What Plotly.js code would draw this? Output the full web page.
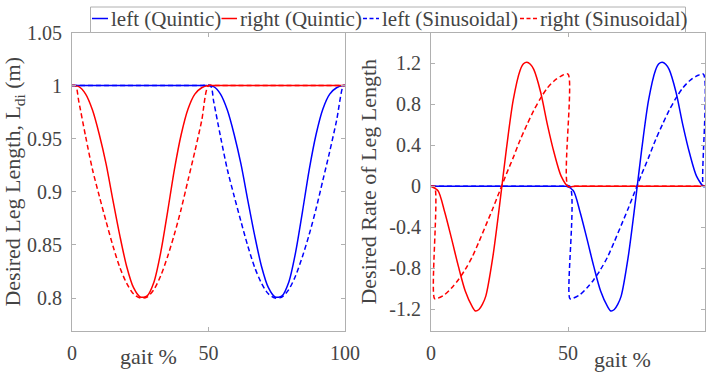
<!DOCTYPE html>
<html>
<head>
<meta charset="utf-8">
<script src="https://cdn.plot.ly/plotly-3.0.1.min.js"></script>
<style>html,body{margin:0;padding:0;background:#fff;}</style>
</head>
<body>
<div id="chart" style="width:718px;height:377px"></div>
<script>
// ---- data (gait % vs. desired leg length / rate) ----
// one swing phase (right leg swings first)
const phaseT = [0, 2.5, 5, 7.5, 10, 12.5, 15, 17.5, 20, 22.5, 25, 27.5, 30, 32.5, 35, 37.5, 40, 42.5, 45, 47.5, 50];
const quinticLength = [1, 0.999, 0.992, 0.977, 0.954, 0.926, 0.892, 0.859, 0.830, 0.810, 0.801, 0.802, 0.815, 0.843, 0.881, 0.921, 0.954, 0.978, 0.992, 0.998, 1];
const quinticRateT = [0, 2.5, 5, 7.5, 10, 12.5, 15, 16.25, 17.5, 18.75, 20, 22.5, 25, 27.5, 30, 32.5, 33.75, 35, 36.25, 37.5, 40, 42.5, 45, 47.5, 50];
const quinticRate = [0, -0.04, -0.25, -0.51, -0.78, -1.02, -1.17, -1.215, -1.2, -1.15, -1.07, -0.7, -0.19, 0.36, 0.84, 1.13, 1.195, 1.21, 1.19, 1.14, 0.92, 0.60, 0.32, 0.10, 0];

const sinLengthT = [1.3, 2.5, 5, 7.5, 10, 12.5, 15, 17.5, 20, 22.5, 25, 27.5, 30, 32.5, 35, 37.5, 40, 42.5, 45, 47.5, 50];
const sinLength = [1, 0.985, 0.952, 0.921, 0.896, 0.872, 0.849, 0.829, 0.814, 0.804, 0.800, 0.801, 0.808, 0.821, 0.839, 0.860, 0.884, 0.911, 0.938, 0.967, 1.0];
const sinRateT = [1.3, 1.3, 2.5, 5, 7.5, 10, 12.5, 15, 17.5, 20, 22.5, 25, 27.5, 30, 32.5, 35, 37.5, 40, 42.5, 45, 47.5, 50, 50];
const sinRate = [0, -1.095, -1.09, -1.055, -0.99, -0.91, -0.81, -0.69, -0.54, -0.38, -0.22, -0.05, 0.12, 0.28, 0.45, 0.60, 0.74, 0.86, 0.96, 1.03, 1.075, 1.095, 0];

// stance phase (flat) sampled on a 2.5 % grid
const stanceT = [0, 2.5, 5, 7.5, 10, 12.5, 15, 17.5, 20, 22.5, 25, 27.5, 30, 32.5, 35, 37.5, 40, 42.5, 45, 47.5];
const stanceLength = 1;     // leg length while in stance
const stanceRate = 0;       // rate while in stance
const leftShift = 49.4;     // left leg swing starts this many % later
const gaitEnd = 100;

const xTicks = [0, 50, 100];
const yTicksLength = [0.8, 0.85, 0.9, 0.95, 1, 1.05];
const yTicksRate = [1.2, 0.8, 0.4, 0, -0.4, -0.8, -1.2];
const yTickTextRate = ['1.2', '0.8', '0.4', '0', '-0.4', '-0.8', '-1.2'];

const legendNames = ['left (Quintic)', 'right (Quintic)', 'left (Sinusoidal)', 'right (Sinusoidal)'];

// ---- build series ----
function rightLeg(t, v, stance) {
  const st = stanceT.map(a => a + 52.5).filter(a => a <= gaitEnd);
  if (st[st.length - 1] !== gaitEnd) st.push(gaitEnd);
  const x = [...t, ...st];
  const y = [...v, ...st.map(() => stance)];
  if (t[0] > 0) { x.unshift(0); y.unshift(stance); }
  return {x, y};
}
function leftLeg(t, v, stance) {
  const st = stanceT.filter(a => a < leftShift + t[0] - 0.5);
  const x = [...st, ...t.map(a => a + leftShift)];
  const y = [...st.map(() => stance), ...v];
  if (x[x.length - 1] < gaitEnd) { x.push(gaitEnd); y.push(stance); }
  return {x, y};
}

const BLUE = '#0000ff', RED = '#ff0000';
const solid = c => ({color: c, width: 1.5, shape: 'spline', smoothing: 0.8});
const dashed = c => ({color: c, width: 1.5, dash: '5px,3px', shape: 'spline', smoothing: 0.8});

function mk(series, line, xa, ya, name) {
  return {type: 'scatter', mode: 'lines', x: series.x, y: series.y, line: line,
          xaxis: xa, yaxis: ya, name: name, showlegend: false, hoverinfo: 'skip'};
}

const traces = [
  mk(leftLeg(phaseT, quinticLength, stanceLength), solid(BLUE), 'x', 'y', legendNames[0]),
  mk(rightLeg(phaseT, quinticLength, stanceLength), solid(RED), 'x', 'y', legendNames[1]),
  mk(leftLeg(sinLengthT, sinLength, stanceLength), dashed(BLUE), 'x', 'y', legendNames[2]),
  mk(rightLeg(sinLengthT, sinLength, stanceLength), dashed(RED), 'x', 'y', legendNames[3]),
  mk(leftLeg(quinticRateT, quinticRate, stanceRate), solid(BLUE), 'x2', 'y2', legendNames[0]),
  mk(rightLeg(quinticRateT, quinticRate, stanceRate), solid(RED), 'x2', 'y2', legendNames[1]),
  mk(leftLeg(sinRateT, sinRate, stanceRate), dashed(BLUE), 'x2', 'y2', legendNames[2]),
  mk(rightLeg(sinRateT, sinRate, stanceRate), dashed(RED), 'x2', 'y2', legendNames[3])
];

// ---- layout ----
const W = 718, H = 377;
const px = v => v / W, py = v => 1 - v / H;
const AX = '#b0b0b0';
const f = s => ({family: 'Liberation Serif', size: s});

const axisCommon = {
  showline: true, linecolor: AX, linewidth: 1, mirror: 'allticks',
  ticks: 'inside', ticklen: 4, tickcolor: AX, tickwidth: 1,
  showgrid: false, zeroline: false, fixedrange: true,
  tickfont: f(20)
};

const layout = {
  width: W, height: H,
  margin: {l: 0, r: 0, t: 0, b: 0},
  paper_bgcolor: '#fff', plot_bgcolor: '#fff',
  showlegend: false,
  xaxis: Object.assign({}, axisCommon, {domain: [px(72), px(345)], range: [0, 100], tickvals: xTicks, anchor: 'y', ticklabelstandoff: 4}),
  yaxis: Object.assign({}, axisCommon, {domain: [py(331), py(32.5)], range: [0.769, 1.05], tickvals: yTicksLength, anchor: 'x', ticklabelstandoff: 5,
    title: {text: 'Desired Leg Length, L<sub>di</sub> (m)', font: f(22), standoff: 6}}),
  xaxis2: Object.assign({}, axisCommon, {domain: [px(431), px(705)], range: [0, 100], tickvals: xTicks, anchor: 'y2', ticklabelstandoff: 4}),
  yaxis2: Object.assign({}, axisCommon, {domain: [py(331), py(32.5)], range: [-1.41, 1.50], tickvals: yTicksRate, ticktext: yTickTextRate, anchor: 'x2', ticklabelstandoff: 5,
    title: {text: 'Desired Rate of Leg Length', font: f(22), standoff: 6}}),
  annotations: [],
  shapes: []
};

layout.annotations.push({xref: 'paper', yref: 'paper', x: px(148), y: py(356), text: 'gait %', showarrow: false,
  font: f(22), xanchor: 'center', yanchor: 'middle'});
layout.annotations.push({xref: 'paper', yref: 'paper', x: px(622), y: py(359), text: 'gait %', showarrow: false,
  font: f(22), xanchor: 'center', yanchor: 'middle'});

const legY = 18.5;
const legItems = [
  {x0: 92, x1: 108, tx: 108.5, color: BLUE, dash: 'solid'},
  {x0: 221.5, x1: 237, tx: 237.5, color: RED, dash: 'solid'},
  {x0: 363, x1: 379, tx: 380, color: BLUE, dash: '4px,2.5px'},
  {x0: 520, x1: 537, tx: 537.5, color: RED, dash: '4px,2.5px'}
];
layout.shapes.push({type: 'rect', xref: 'paper', yref: 'paper', x0: px(90.5), x1: px(685.5), y0: py(7), y1: py(32.5),
  line: {color: AX, width: 1}, fillcolor: '#fff', layer: 'above'});
legItems.forEach((it, i) => {
  layout.shapes.push({type: 'line', xref: 'paper', yref: 'paper', x0: px(it.x0), x1: px(it.x1), y0: py(legY), y1: py(legY),
    line: {color: it.color, width: 1.5, dash: it.dash}, layer: 'above'});
  layout.annotations.push({xref: 'paper', yref: 'paper', x: px(it.tx), y: py(legY + 0.5), text: legendNames[i], showarrow: false,
    xanchor: 'left', yanchor: 'middle', font: f(21)});
});

Plotly.newPlot('chart', traces, layout, {displayModeBar: false, staticPlot: true});
</script>
</body>
</html>
